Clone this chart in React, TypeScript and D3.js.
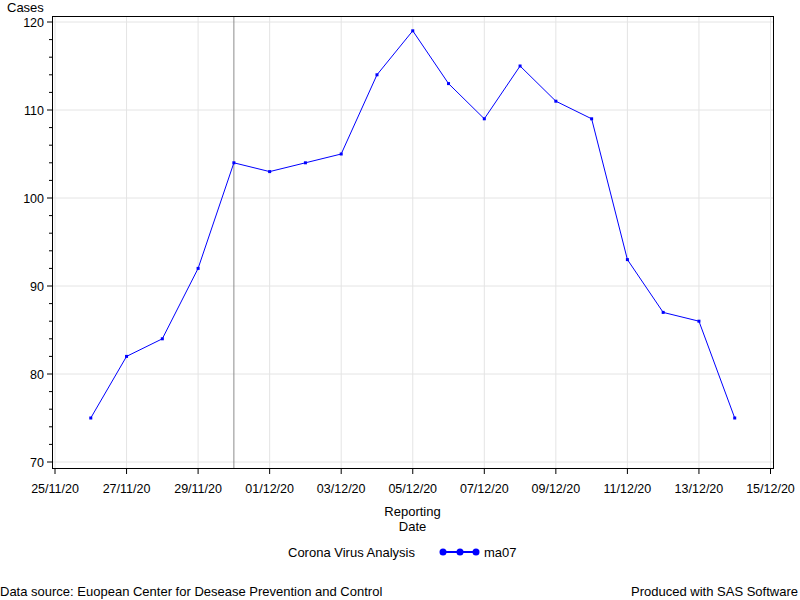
import React from "react";
import * as d3 from "d3";

const dates = ["2020-11-26","2020-11-27","2020-11-28","2020-11-29","2020-11-30","2020-12-01","2020-12-02","2020-12-03","2020-12-04","2020-12-05","2020-12-06","2020-12-07","2020-12-08","2020-12-09","2020-12-10","2020-12-11","2020-12-12","2020-12-13","2020-12-14"];
const ma07 = [75, 82, 84, 92, 104, 103, 104, 105, 114, 119, 113, 109, 115, 111, 109, 93, 87, 86, 75];
const yTicks = [70, 80, 90, 100, 110, 120];
const xTickDates = ["2020-11-25","2020-11-27","2020-11-29","2020-12-01","2020-12-03","2020-12-05","2020-12-07","2020-12-09","2020-12-11","2020-12-13","2020-12-15"];
const refLineDate = "2020-11-30";

const parse = d3.utcParse("%Y-%m-%d");
const fmt = d3.utcFormat("%d/%m/%y");

export default function App() {
  const W = 800, H = 600;
  const left = 52, right = 773, top = 16, bottom = 468;
  const x = d3.scaleUtc()
    .domain([parse("2020-11-25")!, parse("2020-12-15")!])
    .range([55, 770.5]);
  const y = d3.scaleLinear().domain([70, 120]).range([462, 22]);
  const pts = dates.map((d, i) => [x(parse(d)!), y(ma07[i])] as [number, number]);
  const line = d3.line()(pts) || "";
  const minorTicks = d3.range(70, 121, 2).filter(v => v % 10 !== 0);
  const font = "'Liberation Sans', Arial, sans-serif";
  const refX = x(parse(refLineDate)!);
  return (
    <svg width={W} height={H} style={{ position: "absolute", left: 0, top: 0, background: "#fff" }} fontFamily={font} fontSize={13}>
      <rect x={0} y={0} width={W} height={H} fill="#fff" />
      {xTickDates.map(d => (
        <line key={"gx" + d} x1={x(parse(d)!)} x2={x(parse(d)!)} y1={top} y2={bottom} stroke="#e4e4e4" />
      ))}
      {yTicks.map(v => (
        <line key={"gy" + v} x1={left} x2={right} y1={y(v)} y2={y(v)} stroke="#e4e4e4" />
      ))}
      <line x1={refX} x2={refX} y1={top} y2={bottom} stroke="#8c8c8c" />
      <path d={line} fill="none" stroke="#0000ff" strokeWidth={1} />
      {pts.map((p, i) => (
        <rect key={"m" + i} x={p[0] - 1.5} y={p[1] - 1.5} width={3} height={3} fill="#0000ff" />
      ))}
      <rect x={left + 0.5} y={top + 0.5} width={right - left} height={bottom - top} fill="none" stroke="#000" />
      {yTicks.map(v => (
        <g key={"yt" + v}>
          <line x1={left - 5} x2={left} y1={y(v)} y2={y(v)} stroke="#000" />
          <text x={left - 8} y={y(v) + 4.5} textAnchor="end" fill="#000" fontSize={12.5}>{v}</text>
        </g>
      ))}
      {minorTicks.map(v => (
        <line key={"mt" + v} x1={left - 3} x2={left} y1={y(v)} y2={y(v)} stroke="#000" />
      ))}
      {xTickDates.map(d => (
        <g key={"xt" + d}>
          <line x1={x(parse(d)!)} x2={x(parse(d)!)} y1={bottom} y2={bottom + 6} stroke="#000" />
          <text x={x(parse(d)!)} y={bottom + 25} textAnchor="middle" fill="#000" fontSize={12.5}>{fmt(parse(d)!)}</text>
        </g>
      ))}
      <text x={7} y={12} fill="#000">Cases</text>
      <text x={(left + right) / 2} y={516} textAnchor="middle" fill="#000">Reporting</text>
      <text x={(left + right) / 2} y={531} textAnchor="middle" fill="#000">Date</text>
      <text x={288} y={557} fill="#000">Corona Virus Analysis</text>
      <line x1={443} x2={476} y1={552} y2={552} stroke="#0000ff" strokeWidth={2} />
      {[443, 460, 476].map(cx => (
        <circle key={"lg" + cx} cx={cx} cy={552} r={3.5} fill="#0000ff" />
      ))}
      <text x={484} y={557} fill="#000">ma07</text>
      <text x={0} y={596} fill="#000">Data source: Euopean Center for Desease Prevention and Control</text>
      <text x={798} y={596} textAnchor="end" fill="#000">Produced with SAS Software</text>
    </svg>
  );
}
